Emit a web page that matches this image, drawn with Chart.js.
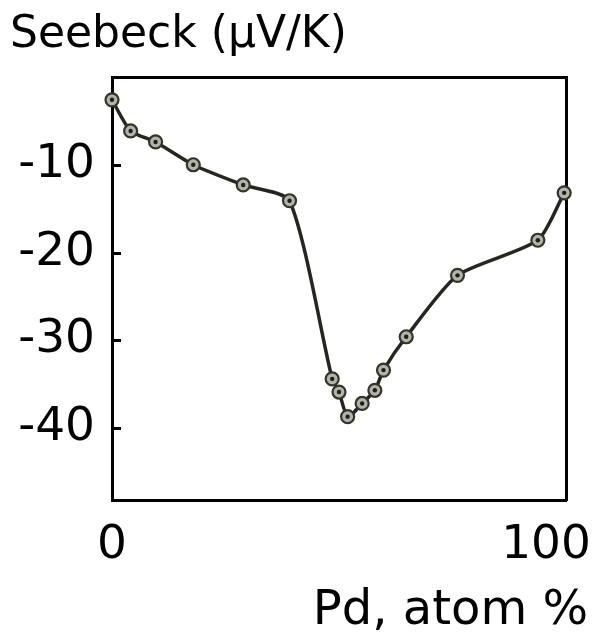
<!DOCTYPE html>
<html><head><meta charset="utf-8">
<script src="https://cdn.jsdelivr.net/npm/chart.js@4.4.0/dist/chart.umd.min.js"></script>
<style>html,body{margin:0;padding:0;background:#fff;}</style>
</head><body>
<canvas id="c" width="595" height="633"></canvas>
<script>
const pdAtomPercent = [0, 4.1, 9.6, 17.9, 28.9, 39.1, 48.5, 50.0, 51.9, 55.1, 57.9, 59.8, 64.8, 76.1, 93.8, 99.6];
const seebeck = [-2.6, -6.15, -7.4, -10.0, -12.3, -14.1, -34.4, -35.9, -38.7, -37.2, -35.7, -33.4, -29.6, -22.6, -18.6, -13.2];
const yTickValues = [-10, -20, -30, -40];
const xTickValues = [0, 100];
const xTickLabels = ['0', '100'];
const titleText = 'Seebeck (µV/K)';
const xTitleText = 'Pd, atom %';

const FONT = 'DejaVu Sans';
const points = pdAtomPercent.map((x, i) => ({x: x, y: seebeck[i]}));

const axisDecorPlugin = {
  id: 'axisDecor',
  beforeDatasetsDraw(chart) {
    const ys = chart.scales.y, ctx = chart.ctx, a = chart.chartArea;
    ctx.save();
    ctx.strokeStyle = '#000';
    ctx.lineWidth = 3;
    ctx.beginPath();
    yTickValues.forEach(v => {
      const py = Math.round(ys.getPixelForValue(v)) + 0.5;
      ctx.moveTo(a.left, py);
      ctx.lineTo(a.left + 9, py);
    });
    ctx.stroke();
    ctx.restore();
  },
  afterDraw(chart) {
    const s = chart.scales.x, ctx = chart.ctx;
    ctx.save();
    ctx.font = '47px "' + FONT + '"';
    ctx.fillStyle = '#000';
    ctx.textBaseline = 'middle';
    ctx.textAlign = 'center';
    xTickValues.forEach((v, i) => {
      let px = s.getPixelForValue(v);
      if (i === xTickValues.length - 1) px -= 20;
      ctx.fillText(xTickLabels[i], px, chart.chartArea.bottom + 46);
    });
    ctx.restore();
  }
};

new Chart(document.getElementById('c'), {
  type: 'line',
  data: {
    datasets: [
      {
        data: points,
        order: 2,
        borderColor: '#262520',
        borderWidth: 3.5,
        tension: 0.22,
        pointRadius: 6.5,
        pointBackgroundColor: '#b4b3a8',
        pointBorderColor: '#34332c',
        pointBorderWidth: 2.2,
        clip: false
      },
      {
        data: points,
        order: 1,
        showLine: false,
        pointRadius: 2.2,
        pointBackgroundColor: '#1e1e1a',
        pointBorderWidth: 0,
        clip: false
      }
    ]
  },
  options: {
    responsive: false,
    devicePixelRatio: 1,
    animation: false,
    layout: {padding: {left: 10, right: 7, top: 0, bottom: 0}},
    plugins: {
      legend: {display: false},
      tooltip: {enabled: false},
      title: {
        display: true, text: titleText, align: 'start', color: '#000',
        font: {family: FONT, size: 44, weight: 'normal', lineHeight: 1.0},
        padding: {top: 14, bottom: 19}
      },
      subtitle: {
        display: true, position: 'bottom', text: xTitleText, align: 'end', color: '#000',
        font: {family: FONT, size: 48, weight: 'normal', lineHeight: 0.9},
        padding: {top: 0, bottom: 0}
      }
    },
    scales: {
      x: {
        type: 'linear', position: 'bottom', min: 0, max: 100,
        grid: {display: false},
        border: {display: true, color: '#000', width: 3},
        ticks: {display: false},
        afterFit: s => { s.height = 133 - 43.2; }
      },
      x2: {
        type: 'linear', position: 'top', min: 0, max: 100,
        grid: {display: false},
        border: {display: true, color: '#000', width: 3},
        ticks: {display: false},
        afterFit: s => { s.height = 0; }
      },
      y: {
        type: 'linear', position: 'left', min: -48.2, max: 0,
        afterBuildTicks: s => { s.ticks = yTickValues.map(v => ({value: v})); },
        grid: {display: false, drawTicks: false},
        border: {display: true, color: '#000', width: 3},
        ticks: {color: '#000', font: {family: FONT, size: 47}, padding: 17, callback: v => String(v)},
        afterFit: s => { s.width = 102; }
      },
      y2: {
        type: 'linear', position: 'right', min: -48.2, max: 0,
        grid: {display: false},
        border: {display: true, color: '#000', width: 3},
        ticks: {display: false},
        afterFit: s => { s.width = 22; }
      }
    }
  },
  plugins: [axisDecorPlugin]
});
</script>
</body></html>
